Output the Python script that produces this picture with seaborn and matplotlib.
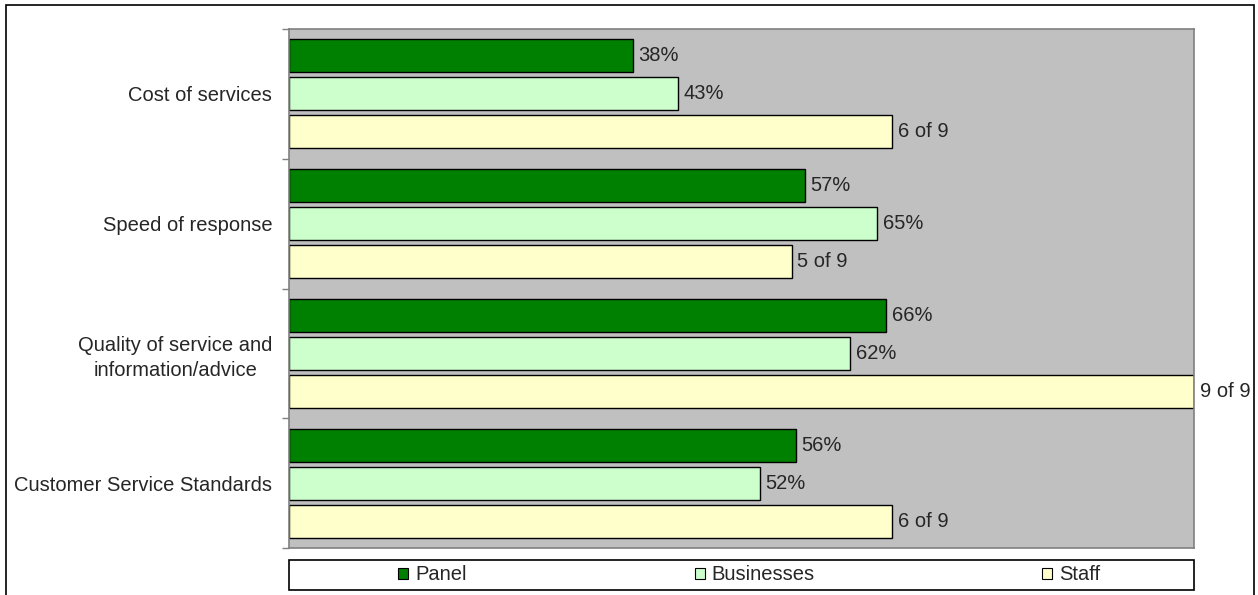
import matplotlib
matplotlib.use("Agg")
import matplotlib.pyplot as plt
import seaborn as sns
import pandas as pd
import numpy as np
from matplotlib.patches import Rectangle, Patch

categories = ["Cost of services", "Speed of response",
              "Quality of service and\ninformation/advice", "Customer Service Standards"]
series = ["Panel", "Businesses", "Staff"]
panel = [38, 57, 66, 56]
businesses = [43, 65, 62, 52]
staff_count = [6, 5, 9, 6]
staff_total = 9
colors = ["#008000", "#CCFFCC", "#FFFFCC"]

staff_pct = [c / staff_total * 100 for c in staff_count]
rows = []
for i, cat in enumerate(categories):
    rows.append((cat, "Panel", panel[i], f"{panel[i]}%"))
    rows.append((cat, "Businesses", businesses[i], f"{businesses[i]}%"))
    rows.append((cat, "Staff", staff_pct[i], f"{staff_count[i]} of {staff_total}"))
df = pd.DataFrame(rows, columns=["category", "series", "value", "label"])

sns.set_style("white")
plt.rcParams["font.family"] = ["Liberation Sans", "DejaVu Sans"]
FS = 14.5

fig = plt.figure(figsize=(12.58, 5.95), dpi=100)
ax = fig.add_axes([289/1258, 1-548/595, (1194-289)/1258, (548-29)/595])
sns.barplot(data=df, x="value", y="category", hue="series", order=categories,
            hue_order=series, palette=colors, width=0.88, gap=0.13,
            edgecolor="black", linewidth=1, saturation=1, ax=ax, legend=False)
ax.set_facecolor("#C0C0C0")
ax.set_xlim(0, 100)
ax.set_ylim(len(categories)-0.5, -0.5)
ax.set_xlabel("")
ax.set_ylabel("")
ax.set_xticks([])
for s in ax.spines.values():
    s.set_color("#808080")
    s.set_linewidth(1.2)

ax.tick_params(axis="y", which="major", left=False, length=0, pad=12, labelsize=FS)
for t in ax.get_yticklabels():
    t.set_multialignment("center")
    t.set_linespacing(1.4)
ax.set_yticks(np.arange(-0.5, len(categories), 1), minor=True)
ax.tick_params(axis="y", which="minor", left=True, length=5, color="#808080", width=1)

for container, s in zip(ax.containers, series):
    sub = df[df["series"] == s].set_index("category").loc[categories]
    for bar, lab in zip(container, sub["label"]):
        ax.annotate(lab, (bar.get_width(), bar.get_y() + bar.get_height()/2),
                    xytext=(4, 0), textcoords="offset points",
                    va="center", ha="left", fontsize=FS, annotation_clip=False)

# legend box
lx0, lx1, ly0, ly1 = 289/1258, 1194/1258, 1-590/595, 1-560/595
fig.patches.append(Rectangle((lx0, ly0), lx1-lx0, ly1-ly0, transform=fig.transFigure,
                             fill=True, facecolor="white", edgecolor="black", linewidth=1.2))
handles = [Patch(facecolor=c, edgecolor="black", linewidth=0.8) for c in colors]
leg = fig.legend(handles, series, loc="center", ncol=3,
                 bbox_to_anchor=((lx0+lx1)/2 + 8/1258, (ly0+ly1)/2),
                 frameon=False, fontsize=FS, handlelength=0.5,
                 handleheight=0.5, handletextpad=0.35, columnspacing=11.3,
                 borderaxespad=0, borderpad=0)

fig.patches.append(Rectangle((6/1258, -0.02), (1254-6)/1258, 1-5/595+0.02,
                             transform=fig.transFigure, fill=False,
                             edgecolor="black", linewidth=1.2))
fig.savefig("out.png", dpi=100)
